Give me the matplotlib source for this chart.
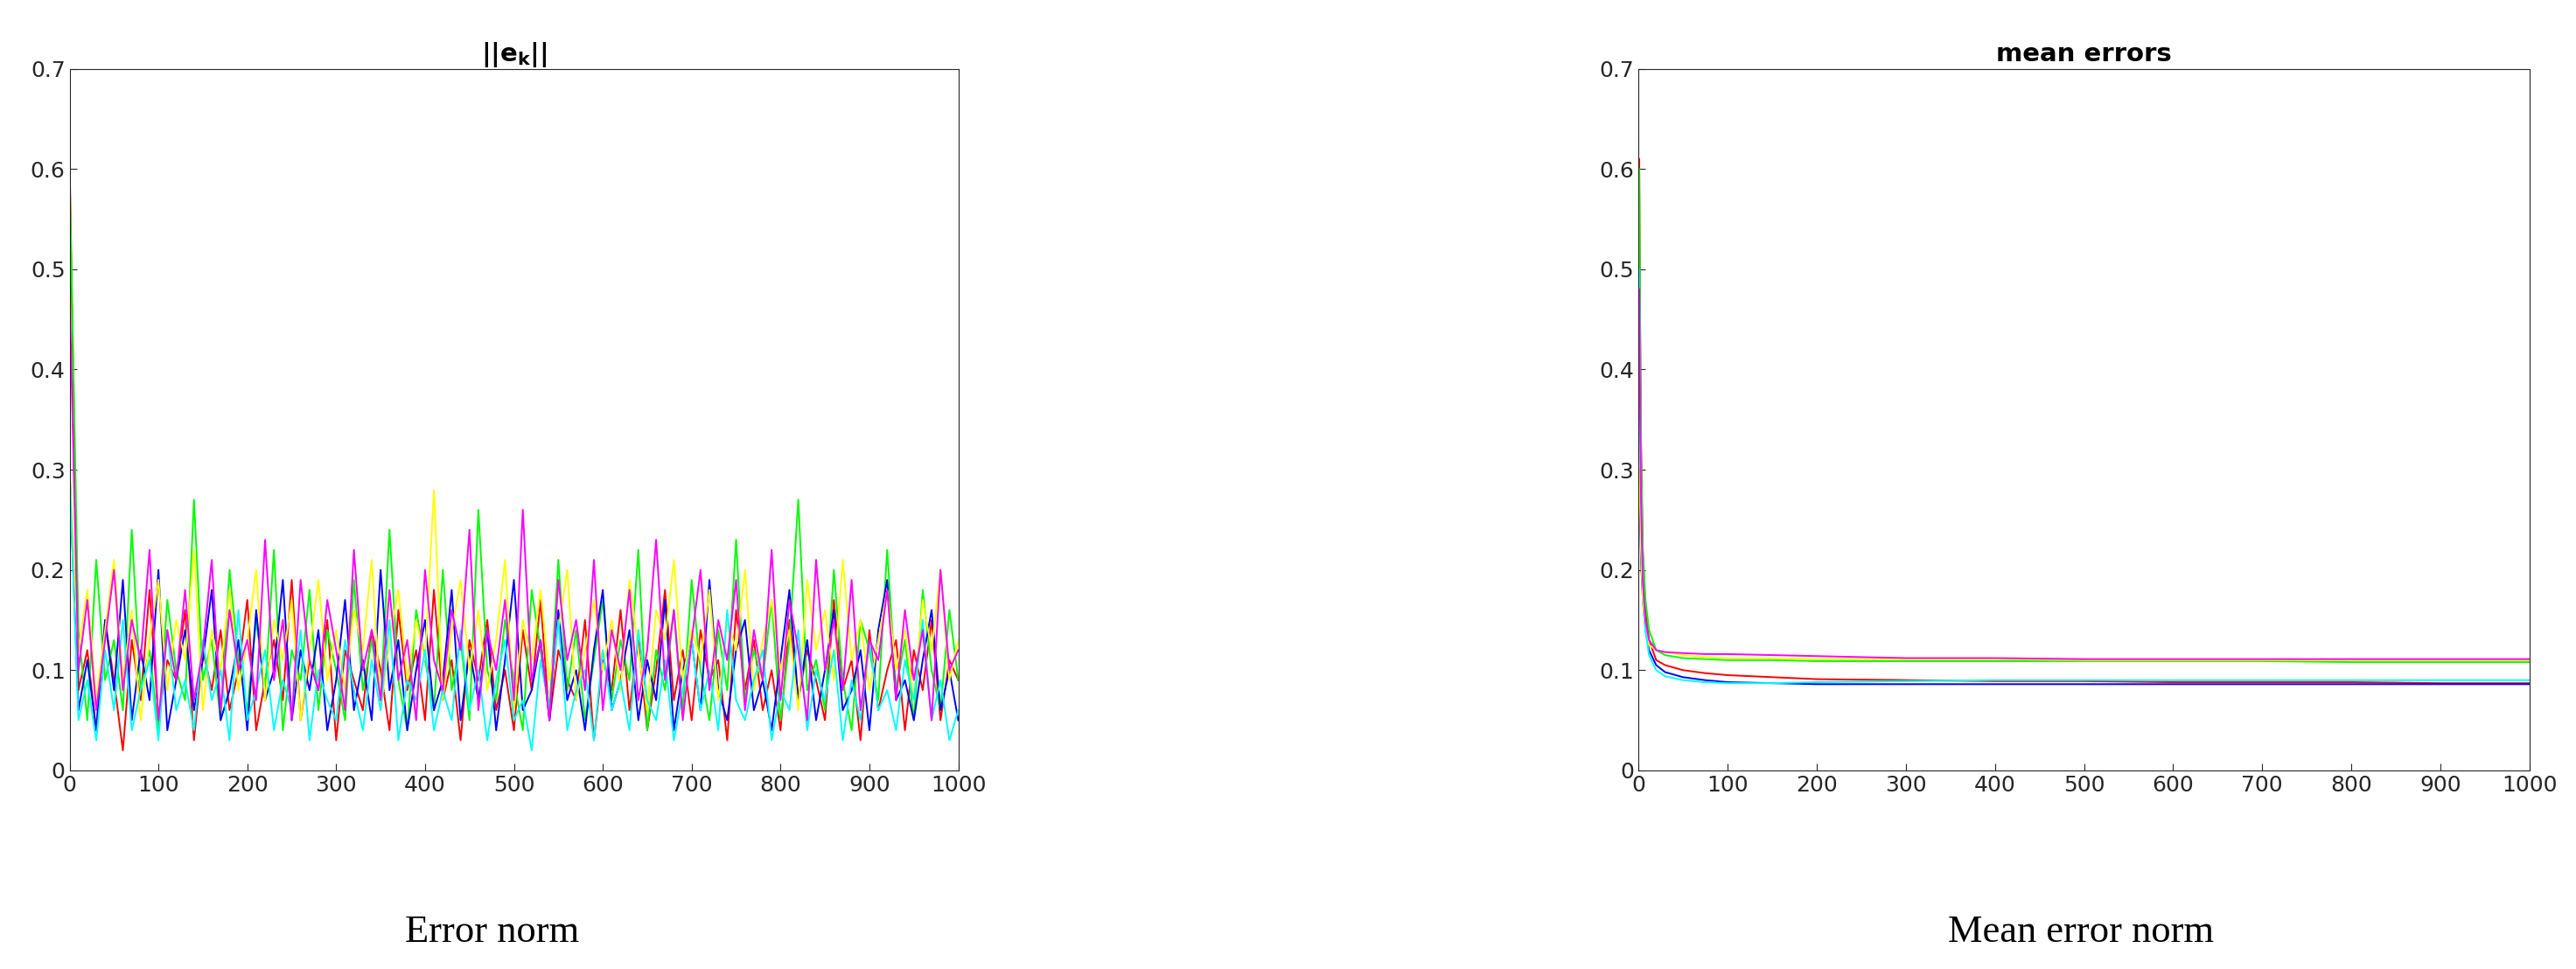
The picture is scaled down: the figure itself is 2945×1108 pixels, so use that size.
import numpy as np
import matplotlib.pyplot as plt

# left panel: error norm per run, read off roughly every 10 iterations
k_left = np.arange(0, 1001, 10)

red = [0.61, 0.08, 0.12, 0.04, 0.15, 0.09, 0.02, 0.13, 0.07, 0.18, 0.05, 0.11, 0.09, 0.16, 0.03, 0.12, 0.08, 0.14, 0.06, 0.10,
       0.17, 0.04, 0.09, 0.13, 0.07, 0.19, 0.05, 0.11, 0.08, 0.15, 0.03, 0.12, 0.09, 0.06, 0.14, 0.10, 0.04, 0.16, 0.08, 0.12,
       0.05, 0.18, 0.07, 0.11, 0.03, 0.13, 0.09, 0.15, 0.06, 0.10, 0.04, 0.14, 0.08, 0.17, 0.05, 0.12, 0.09, 0.07, 0.15, 0.03,
       0.11, 0.08, 0.16, 0.06, 0.13, 0.04, 0.10, 0.18, 0.07, 0.12, 0.05, 0.14, 0.09, 0.11, 0.03, 0.16, 0.08, 0.13, 0.06, 0.10,
       0.04, 0.15, 0.07, 0.12, 0.09, 0.05, 0.17, 0.08, 0.11, 0.03, 0.14, 0.06, 0.10, 0.13, 0.04, 0.12, 0.08, 0.15, 0.05, 0.11, 0.09]
green = [0.60, 0.14, 0.05, 0.21, 0.09, 0.13, 0.06, 0.24, 0.08, 0.12, 0.04, 0.17, 0.10, 0.07, 0.27, 0.09, 0.13, 0.05, 0.20, 0.11,
         0.06, 0.15, 0.08, 0.22, 0.04, 0.12, 0.09, 0.18, 0.06, 0.14, 0.10, 0.05, 0.19, 0.08, 0.13, 0.07, 0.24, 0.09, 0.04, 0.16,
         0.11, 0.06, 0.20, 0.08, 0.13, 0.05, 0.26, 0.10, 0.07, 0.15, 0.09, 0.04, 0.18, 0.12, 0.06, 0.21, 0.08, 0.14, 0.05, 0.11,
         0.17, 0.07, 0.13, 0.09, 0.22, 0.04, 0.12, 0.08, 0.16, 0.06, 0.19, 0.10, 0.05, 0.14, 0.08, 0.23, 0.07, 0.12, 0.09, 0.17,
         0.05, 0.13, 0.27, 0.08, 0.11, 0.06, 0.20, 0.09, 0.04, 0.15, 0.12, 0.07, 0.22, 0.08, 0.13, 0.05, 0.18, 0.10, 0.06, 0.16, 0.09]
blue = [0.30, 0.06, 0.11, 0.04, 0.15, 0.08, 0.19, 0.05, 0.12, 0.07, 0.20, 0.04, 0.09, 0.14, 0.06, 0.11, 0.18, 0.05, 0.08, 0.13,
        0.04, 0.16, 0.07, 0.10, 0.19, 0.05, 0.12, 0.08, 0.14, 0.04, 0.09, 0.17, 0.06, 0.11, 0.05, 0.20, 0.08, 0.13, 0.04, 0.10,
        0.15, 0.06, 0.09, 0.18, 0.05, 0.12, 0.07, 0.14, 0.04, 0.11, 0.19, 0.06, 0.08, 0.13, 0.05, 0.16, 0.07, 0.10, 0.04, 0.12,
        0.18, 0.06, 0.09, 0.14, 0.05, 0.11, 0.07, 0.17, 0.04, 0.10, 0.13, 0.06, 0.19, 0.08, 0.05, 0.12, 0.15, 0.06, 0.09, 0.04,
        0.11, 0.18, 0.07, 0.13, 0.05, 0.10, 0.16, 0.06, 0.08, 0.12, 0.04, 0.14, 0.19, 0.07, 0.09, 0.05, 0.11, 0.16, 0.06, 0.10, 0.05]
yellow = [0.30, 0.12, 0.18, 0.07, 0.14, 0.21, 0.09, 0.16, 0.05, 0.13, 0.19, 0.08, 0.15, 0.11, 0.22, 0.06, 0.14, 0.10, 0.18, 0.08,
          0.13, 0.20, 0.07, 0.15, 0.11, 0.17, 0.05, 0.12, 0.19, 0.09, 0.14, 0.08, 0.16, 0.12, 0.21, 0.06, 0.13, 0.18, 0.09, 0.15,
          0.11, 0.28, 0.07, 0.14, 0.19, 0.10, 0.16, 0.08, 0.13, 0.21, 0.06, 0.15, 0.11, 0.18, 0.09, 0.14, 0.20, 0.07, 0.12, 0.17,
          0.10, 0.15, 0.08, 0.19, 0.12, 0.06, 0.16, 0.13, 0.21, 0.09, 0.14, 0.11, 0.18, 0.07, 0.15, 0.12, 0.20, 0.08, 0.13, 0.17,
          0.10, 0.14, 0.06, 0.19, 0.12, 0.16, 0.09, 0.21, 0.11, 0.15, 0.08, 0.13, 0.18, 0.10, 0.14, 0.07, 0.17, 0.12, 0.20, 0.09, 0.13]
cyan = [0.30, 0.05, 0.09, 0.03, 0.12, 0.06, 0.15, 0.04, 0.08, 0.11, 0.03, 0.14, 0.06, 0.09, 0.04, 0.13, 0.07, 0.10, 0.03, 0.16,
        0.05, 0.08, 0.12, 0.04, 0.09, 0.06, 0.14, 0.03, 0.10, 0.07, 0.05, 0.13, 0.08, 0.04, 0.11, 0.06, 0.15, 0.03, 0.09, 0.07,
        0.12, 0.04, 0.08, 0.05, 0.14, 0.06, 0.10, 0.03, 0.09, 0.13, 0.05, 0.07, 0.02, 0.11, 0.06, 0.15, 0.04, 0.08, 0.10, 0.03,
        0.12, 0.06, 0.09, 0.04, 0.14, 0.07, 0.05, 0.11, 0.03, 0.08, 0.13, 0.06, 0.10, 0.04, 0.16, 0.07, 0.05, 0.09, 0.12, 0.03,
        0.08, 0.06, 0.14, 0.04, 0.10, 0.07, 0.12, 0.03, 0.09, 0.05, 0.13, 0.06, 0.08, 0.04, 0.11, 0.07, 0.15, 0.05, 0.09, 0.03, 0.06]
magenta = [0.48, 0.10, 0.17, 0.06, 0.13, 0.20, 0.08, 0.15, 0.11, 0.22, 0.05, 0.14, 0.09, 0.18, 0.07, 0.12, 0.21, 0.06, 0.16, 0.10,
           0.13, 0.07, 0.23, 0.09, 0.15, 0.05, 0.19, 0.11, 0.08, 0.17, 0.12, 0.06, 0.22, 0.10, 0.14, 0.07, 0.18, 0.09, 0.13, 0.05,
           0.20, 0.11, 0.08, 0.16, 0.12, 0.24, 0.06, 0.14, 0.10, 0.17, 0.07, 0.26, 0.09, 0.13, 0.05, 0.19, 0.11, 0.15, 0.08, 0.21,
           0.06, 0.14, 0.10, 0.18, 0.07, 0.12, 0.23, 0.09, 0.16, 0.05, 0.13, 0.20, 0.08, 0.15, 0.11, 0.19, 0.06, 0.14, 0.09, 0.22,
           0.07, 0.17, 0.12, 0.05, 0.21, 0.10, 0.15, 0.08, 0.19, 0.06, 0.13, 0.11, 0.18, 0.07, 0.16, 0.09, 0.14, 0.05, 0.20, 0.10, 0.12]

# right panel: running mean of error norm
k_right = [1, 2, 3, 5, 8, 12, 20, 30, 50, 75, 100, 150, 200, 300, 400, 500, 600, 700, 800, 900, 1000]
mean_red = [0.61, 0.45, 0.33, 0.22, 0.16, 0.13, 0.11, 0.105, 0.10, 0.097, 0.095, 0.093, 0.091, 0.090, 0.089, 0.089, 0.088, 0.088, 0.088, 0.087, 0.087]
mean_green = [0.60, 0.44, 0.32, 0.22, 0.17, 0.14, 0.12, 0.115, 0.112, 0.111, 0.110, 0.110, 0.109, 0.109, 0.109, 0.109, 0.109, 0.109, 0.108, 0.108, 0.108]
mean_blue = [0.30, 0.25, 0.21, 0.17, 0.14, 0.12, 0.105, 0.098, 0.093, 0.090, 0.088, 0.087, 0.086, 0.086, 0.086, 0.086, 0.086, 0.086, 0.086, 0.086, 0.086]
mean_yellow = [0.30, 0.26, 0.22, 0.17, 0.14, 0.125, 0.12, 0.118, 0.115, 0.113, 0.112, 0.112, 0.111, 0.111, 0.111, 0.110, 0.110, 0.110, 0.110, 0.110, 0.110]
mean_cyan = [0.50, 0.38, 0.28, 0.19, 0.14, 0.115, 0.10, 0.094, 0.090, 0.088, 0.087, 0.087, 0.088, 0.089, 0.090, 0.090, 0.090, 0.090, 0.090, 0.090, 0.090]
mean_magenta = [0.48, 0.36, 0.27, 0.19, 0.15, 0.13, 0.12, 0.118, 0.117, 0.116, 0.116, 0.115, 0.114, 0.112, 0.112, 0.111, 0.111, 0.111, 0.111, 0.111, 0.111]

colors = ["red", "lime", "blue", "yellow", "cyan", "magenta"]
left_series = [red, green, blue, yellow, cyan, magenta]
right_series = [mean_red, mean_green, mean_blue, mean_yellow, mean_cyan, mean_magenta]

fig = plt.figure(figsize=(29.45, 11.08), dpi=100)
ax1 = fig.add_axes([0.027, 0.205, 0.345, 0.724])
ax2 = fig.add_axes([0.636, 0.205, 0.346, 0.724])

for ys, c in zip(left_series, colors):
    ax1.plot(k_left, ys, color=c, lw=1.4)
for ys, c in zip(right_series, colors):
    ax2.plot(k_right, ys, color=c, lw=1.4)

for ax, title in [(ax1, r"$\mathbf{||e_k||}$"), (ax2, "mean errors")]:
    ax.set_xlim(0, 1000)
    ax.set_ylim(0, 0.7)
    ax.set_xticks(np.arange(0, 1001, 100))
    ax.set_yticks(np.arange(0, 0.71, 0.1))
    ax.set_yticklabels(["0"] + [f"{v:.1f}" for v in np.arange(0.1, 0.71, 0.1)])
    ax.tick_params(labelsize=18, direction="in", length=6, colors="#262626")
    ax.set_title(title, fontsize=21, fontweight="bold")
    for s in ax.spines.values():
        s.set_color("#262626")

fig.text(0.191, 0.028, "Error norm", ha="center", fontsize=32, family="Liberation Serif")
fig.text(0.808, 0.028, "Mean error norm", ha="center", fontsize=32, family="Liberation Serif")

fig.savefig("out.png", dpi=100)
